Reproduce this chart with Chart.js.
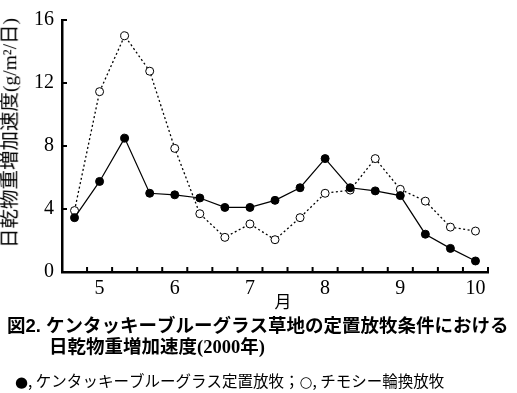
<!DOCTYPE html>
<html>
<head>
<meta charset="utf-8">
<script src="https://cdn.jsdelivr.net/npm/chart.js@4/dist/chart.umd.min.js"></script>
<style>
  html, body { margin: 0; padding: 0; background: #fff; }
  #wrap { position: relative; width: 517px; height: 393px; overflow: hidden; }
  #chartBox { position: absolute; left: 0; top: 0; width: 517px; height: 393px; }
  .txt { position: absolute; white-space: nowrap; color: #000; line-height: 1; font-kerning: none; }
  #ytitle { left: 10px; top: 133px; font-size: 19.5px; font-family: "Liberation Serif", "Noto Sans CJK JP", serif;
            transform: translate(-50%, -50%) rotate(-90deg); }
  #xtitle { left: 283px; top: 300px; font-size: 17px; font-family: "Noto Sans CJK JP", sans-serif;
            transform: translate(-50%, -50%); }
  #cap1 { left: 7px; top: 317px; font-size: 18.5px; font-weight: bold; font-family: "Liberation Sans", "Noto Sans CJK JP", sans-serif; }
  #cap2 { left: 49px; top: 338px; font-size: 18.5px; font-weight: bold; font-family: "Liberation Serif", "Noto Sans CJK JP", serif; }
  #cap3 { left: 15px; top: 373px; font-size: 15.5px; font-family: "Noto Sans CJK JP", sans-serif; }
  .sym { font-family: "DejaVu Sans", sans-serif; font-size: 15px; }
</style>
</head>
<body>
<div id="wrap">
  <div id="chartBox"><canvas id="c"></canvas></div>
  <div class="txt" id="ytitle">日乾物重増加速度(g/m²/日)</div>
  <div class="txt" id="xtitle">月</div>
  <div class="txt" id="cap1">図2. ケンタッキーブルーグラス草地の定置放牧条件における</div>
  <div class="txt" id="cap2">日乾物重増加速度(2000年)</div>
  <div class="txt" id="cap3"><span class="sym">●</span>, ケンタッキーブルーグラス定置放牧；<span class="sym">○</span>, チモシー輪換放牧</div>
</div>
<script>
// 10-day periods (旬): late April through early October
const periods = ['4月下旬',
  '5月上旬','5月中旬','5月下旬',
  '6月上旬','6月中旬','6月下旬',
  '7月上旬','7月中旬','7月下旬',
  '8月上旬','8月中旬','8月下旬',
  '9月上旬','9月中旬','9月下旬',
  '10月上旬'];
// month tick labels shown at the first period of each month
const monthLabels = ['', '5', '', '', '6', '', '', '7', '', '', '8', '', '', '9', '', '', '10'];
const yTicks = [0, 4, 8, 12, 16];

// ●: ケンタッキーブルーグラス定置放牧
const kbgFixed = [3.45, 5.75, 8.5, 5.0, 4.9, 4.7, 4.1, 4.1, 4.55, 5.35, 7.2, 5.35, 5.15, 4.85, 2.4, 1.5, 0.7];
// ○: チモシー輪換放牧
const timothyRot = [3.9, 11.45, 15.0, 12.75, 7.85, 3.7, 2.2, 3.05, 2.05, 3.45, 5.0, 5.2, 7.2, 5.25, 4.5, 2.85, 2.6];

const innerTicks = {
  id: 'innerTicks',
  afterDraw(chart) {
    const ctx = chart.ctx;
    const xs = chart.scales.x, ys = chart.scales.y;
    const area = chart.chartArea;
    ctx.save();
    ctx.strokeStyle = '#000';
    ctx.lineWidth = 2;
    const half = (xs.getPixelForValue(1) - xs.getPixelForValue(0)) / 2;
    for (let k = 1; k <= periods.length; k++) {
      const px = xs.getPixelForValue(k - 1) + half;
      ctx.beginPath();
      ctx.moveTo(px, area.bottom);
      ctx.lineTo(px, area.bottom - 5);
      ctx.stroke();
    }
    yTicks.forEach(v => {
      if (v === 0) return;
      const py = ys.getPixelForValue(v);
      ctx.beginPath();
      ctx.moveTo(area.left, py);
      ctx.lineTo(area.left + 5, py);
      ctx.stroke();
    });
    ctx.restore();
  }
};

new Chart(document.getElementById('c'), {
  type: 'line',
  data: {
    labels: periods,
    datasets: [
      {
        label: 'ケンタッキーブルーグラス定置放牧',
        data: kbgFixed,
        borderColor: '#000',
        borderWidth: 1.2,
        pointRadius: 4,
        pointBorderWidth: 1,
        pointBackgroundColor: '#000',
        pointBorderColor: '#000',
        tension: 0
      },
      {
        label: 'チモシー輪換放牧',
        data: timothyRot,
        borderColor: '#000',
        borderWidth: 1.3,
        borderDash: [2, 2.5],
        pointRadius: 4,
        pointBorderWidth: 1,
        pointBackgroundColor: '#fff',
        pointBorderColor: '#000',
        tension: 0
      }
    ]
  },
  options: {
    responsive: true,
    maintainAspectRatio: false,
    animation: false,
    layout: { padding: { left: 0, right: 29, top: 17, bottom: 0 } },
    plugins: { legend: { display: false }, tooltip: { enabled: false } },
    scales: {
      x: {
        type: 'category',
        offset: true,
        afterFit(scale) { scale.height = 121; },
        grid: { display: true, drawOnChartArea: false, drawTicks: false, offset: true },
        border: { display: true, color: '#000', width: 2.5 },
        ticks: {
          autoSkip: false,
          maxRotation: 0,
          padding: 5,
          color: '#000',
          font: { family: 'Liberation Serif', size: 20 },
          callback: (v, i) => monthLabels[i]
        }
      },
      y: {
        min: 0,
        max: 16,
        afterFit(scale) { scale.width = 62; },
        afterBuildTicks(scale) { scale.ticks = yTicks.map(v => ({ value: v })); },
        grid: { display: true, drawOnChartArea: false, drawTicks: false },
        border: { display: true, color: '#000', width: 2.5 },
        ticks: {
          padding: 8,
          color: '#000',
          font: { family: 'Liberation Serif', size: 20 }
        }
      }
    }
  },
  plugins: [innerTicks]
});
</script>
</body>
</html>
